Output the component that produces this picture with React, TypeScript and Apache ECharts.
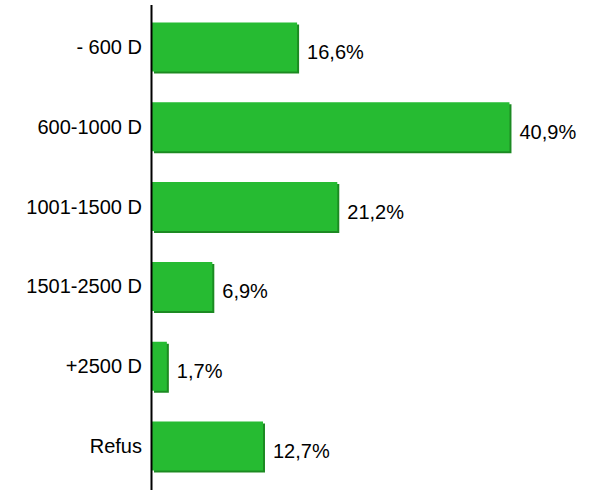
import React, { useEffect, useRef } from "react";
import * as echarts from "echarts";

const categories = ["- 600 D", "600-1000 D", "1001-1500 D", "1501-2500 D", "+2500 D", "Refus"];
const values = [16.6, 40.9, 21.2, 6.9, 1.7, 12.7];

export default function App() {
  const ref = useRef<HTMLDivElement>(null);
  useEffect(() => {
    document.body.style.margin = "0";
    if (!ref.current) return;
    const chart = echarts.init(ref.current, null, { renderer: "svg" });
    chart.setOption({
      animation: false,
      backgroundColor: "#ffffff",
      textStyle: { fontFamily: "Liberation Sans, Arial, sans-serif" },
      grid: { left: 152, top: 7, width: 437, height: 479, containLabel: false },
      xAxis: {
        type: "value",
        min: 0,
        max: 50,
        show: false,
      },
      yAxis: {
        type: "category",
        data: categories,
        inverse: true,
        axisLine: { show: false },
        axisTick: { show: false },
        axisLabel: {
          margin: 10,
          color: "#000000",
          fontSize: 20,
          fontFamily: "Liberation Sans, Arial, sans-serif",
        },
      },
      graphic: [
        {
          type: "line",
          shape: { x1: 151.5, y1: 5, x2: 151.5, y2: 490 },
          style: { stroke: "#000000", lineWidth: 2 },
          z: 100,
        },
      ],
      series: [
        {
          type: "bar",
          data: values,
          barWidth: 49,
          itemStyle: {
            color: "#25BB31",
            shadowColor: "#1A8A24",
            shadowOffsetX: 2,
            shadowOffsetY: 2,
            shadowBlur: 0,
          },
          label: {
            show: true,
            position: "right",
            distance: 10,
            offset: [0, 5],
            color: "#000000",
            fontSize: 20,
            fontFamily: "Liberation Sans, Arial, sans-serif",
            formatter: (p: any) => String(p.value).replace(".", ",") + "%",
          },
        },
      ],
    });
    return () => chart.dispose();
  }, []);
  return <div ref={ref} style={{ width: 605, height: 490 }} />;
}
